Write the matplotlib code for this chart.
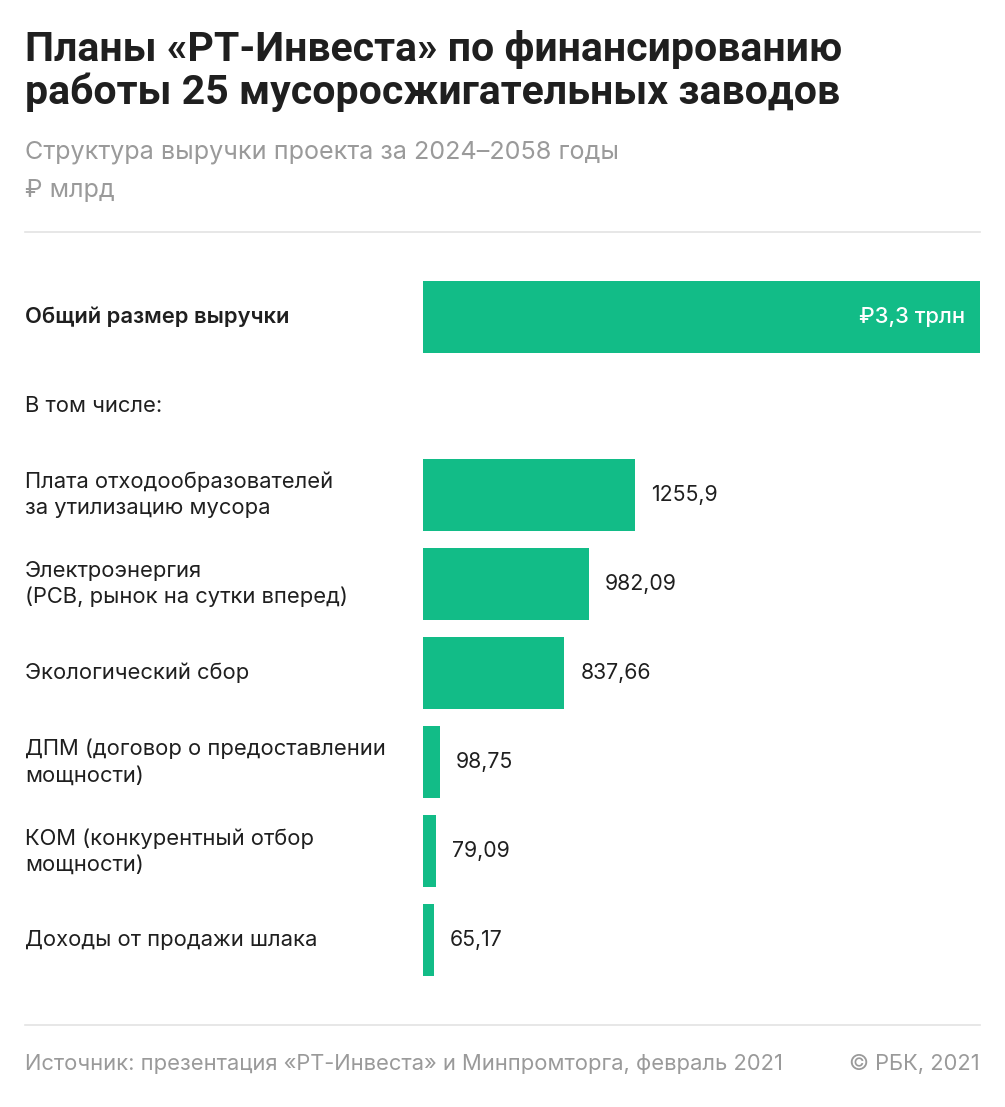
import matplotlib
matplotlib.use("Agg")
import matplotlib.pyplot as plt
from matplotlib.transforms import blended_transform_factory

plt.rcParams['font.family'] = ['Inter', 'Roboto', 'DejaVu Sans']

title = "Планы «РТ-Инвеста» по финансированию\nработы 25 мусоросжигательных заводов"
subtitle = "Структура выручки проекта за 2024–2058 годы"
unit = "₽ млрд"
source = "Источник: презентация «РТ-Инвеста» и Минпромторга, февраль 2021"
credit = "© РБК, 2021"

total_label = "Общий размер выручки"
total_value = 3300
total_text = "₽3,3 трлн"
subheader = "В том числе:"

categories = [
    "Плата отходообразователей\nза утилизацию мусора",
    "Электроэнергия\n(РСВ, рынок на сутки вперед)",
    "Экологический сбор",
    "ДПМ (договор о предоставлении\nмощности)",
    "КОМ (конкурентный отбор\nмощности)",
    "Доходы от продажи шлака",
]
values = [1255.9, 982.09, 837.66, 98.75, 79.09, 65.17]
value_labels = ["1255,9", "982,09", "837,66", "98,75", "79,09", "65,17"]

W, H = 1005, 1107
fig = plt.figure(figsize=(W / 100, H / 100), dpi=100)
fig.patch.set_facecolor("white")

GREEN = "#12bc87"
DARK = "#1f1f1f"
GRAY = "#9a9a9a"
LINE = "#e3e3e3"
TITLE_FONT = ['Roboto', 'DejaVu Sans']

def fx(px):
    return px / W

def fy(py):
    return 1 - py / H

# header
fig.text(fx(25), fy(30), title, ha="left", va="top", fontsize=29.5,
         fontweight="bold", color=DARK, linespacing=1.12, family=TITLE_FONT)
fig.text(fx(25), fy(152), subtitle, ha="left", va="center", fontsize=18.1, color=GRAY)
fig.text(fx(25), fy(191), unit, ha="left", va="center", fontsize=18.1, color=GRAY)
fig.add_artist(plt.Line2D([fx(25), fx(980)], [fy(232), fy(232)], color=LINE, lw=1.2))

# axes
ax = fig.add_axes([fx(423), fy(985), fx(980) - fx(423), (985 - 272) / H])
ax.set_xlim(0, total_value)
ax.set_ylim(7.5, -0.5)
ax.axis("off")

bh = 72 / 89.1
ax.barh(0, total_value, height=bh, color=GREEN, left=0)
ax.text(total_value - 90, 0, total_text, ha="right", va="center", color="white",
        fontsize=15.8, fontweight="medium")

ypos = list(range(2, 2 + len(values)))
ax.barh(ypos, values, height=bh, color=GREEN)
for y, v, lab in zip(ypos, values, value_labels):
    ax.text(v + 95, y, lab, ha="left", va="center", color=DARK, fontsize=15.3)

tr = blended_transform_factory(fig.transFigure, ax.transData)
ax.text(fx(25), 0, total_label, transform=tr, ha="left", va="center",
        fontsize=15.8, fontweight="semibold", color=DARK)
ax.text(fx(25), 1, subheader, transform=tr, ha="left", va="center",
        fontsize=15.8, color=DARK)
for y, c in zip(ypos, categories):
    ax.text(fx(25), y, c, transform=tr, ha="left", va="center",
            fontsize=15.8, color=DARK, linespacing=1.38)

# footer
fig.add_artist(plt.Line2D([fx(25), fx(980)], [fy(1025), fy(1025)], color=LINE, lw=1.2))
fig.text(fx(25), fy(1064), source, ha="left", va="center", fontsize=15.8, color=GRAY)
fig.text(fx(980), fy(1064), credit, ha="right", va="center", fontsize=15.8, color=GRAY)

fig.savefig("out.png", dpi=100, facecolor="white")
